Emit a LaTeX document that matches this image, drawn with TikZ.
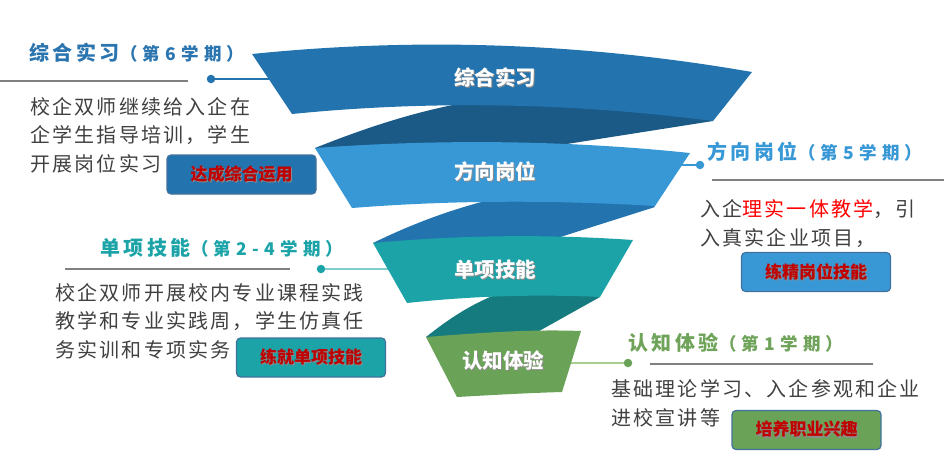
\documentclass[tikz,border=0pt]{standalone}
\usepackage{fontspec}
\setmainfont{Noto Sans CJK SC}
\newfontfamily\bodyfont[LetterSpace=11]{Noto Sans CJK SC}
\newfontfamily\headfont[LetterSpace=18]{Noto Sans CJK SC}
\newfontfamily\termfont[LetterSpace=30]{Noto Sans CJK SC}
\usetikzlibrary{calc}
\definecolor{bandA}{HTML}{2273AE}
\definecolor{twistA}{HTML}{1B5A87}
\definecolor{bandB}{HTML}{3898D6}
\definecolor{bandC}{HTML}{1BA3A8}
\definecolor{twistC}{HTML}{167B7F}
\definecolor{bandD}{HTML}{6AA257}
\definecolor{linkC}{HTML}{7FCDCF}
\definecolor{linkD}{HTML}{A8CF8E}
\definecolor{titleA}{HTML}{2A74AF}
\definecolor{titleD}{HTML}{6FA35A}
\definecolor{bodygray}{HTML}{404040}
\definecolor{boxred}{HTML}{C00000}
\definecolor{boxline}{HTML}{41719C}
\newcommand{\shad}[1]{\makebox[0pt][l]{\hspace{1.2pt}\raisebox{-1.2pt}{\textcolor{black!45}{#1}}}#1}
\newcommand{\term}[1]{{\termfont\fontsize{17.5}{17.5}\selectfont #1}}
\tikzset{
  bandlabel/.style={text=white, inner sep=0pt, font=\fontsize{20.5}{20.5}\selectfont\bfseries},
  stagetitle/.style={anchor=west, inner sep=0pt, font=\headfont\fontsize{20}{20}\selectfont\bfseries},
  stagebody/.style={anchor=base west, inner sep=0pt, align=left, text=bodygray, font=\bodyfont\fontsize{20}{28.5}\selectfont},
  tagbox/.style={draw=boxline, line width=1.2pt, rounded corners=4pt, minimum width=149pt, minimum height=39pt, text=boxred, font=\fontsize{17}{17}\selectfont\bfseries},
  stagedot/.style={circle, inner sep=0pt, minimum size=8.5pt},
  seprule/.style={draw=black!50, line width=1.1pt},
  stagelink/.style={line width=2pt}
}
\begin{document}
\begin{tikzpicture}[x=1pt, y=-1pt]
\useasboundingbox (0,0) rectangle (944,459);
\node[stagedot, fill=bandA] (d1) at (211,79) {};
\node[stagedot, fill=bandB] (d2) at (700,165) {};
\node[stagedot, fill=bandC] (d3) at (321,269) {};
\node[stagedot, fill=bandD] (d4) at (628,363) {};
\coordinate (e1) at (275,79);
\coordinate (e2) at (675,165);
\coordinate (e3) at (395,269);
\coordinate (e4) at (565,363);
\draw[stagelink, bandA] (d1) -- (e1);
\draw[stagelink, bandB] (e2) -- (d2);
\draw[stagelink, linkC] (d3) -- (e3);
\draw[stagelink, linkD] (e4) -- (d4);
\fill[twistA] (315,148) .. controls (380,122) and (430,108) .. (480,100) -- (690,108) -- (713,121) -- (497,155) -- (320,152) -- cycle;
\fill[bandA] (373,243) .. controls (420,220) and (460,207) .. (497,198) -- (650,200) -- (655,207) -- (535,245) -- (378,247) -- cycle;
\fill[twistC] (426,337) .. controls (450,318) and (470,305) .. (497,294) -- (598,292) -- (600,297) -- (523,340) -- (430,341) -- cycle;
\fill[bandA] (252,54) .. controls (419,37) and (585,43) .. (752,72) -- (713,121) .. controls (573,103) and (432,100) .. (292,114) -- cycle;
\fill[bandB] (315,148) .. controls (440,139) and (565,140) .. (690,153) -- (655,206) .. controls (554,200) and (453,200) .. (352,208) -- cycle;
\fill[bandC] (373,243) .. controls (460,235) and (546,234) .. (633,240) -- (600,297) .. controls (536,294) and (471,296) .. (407,303) -- cycle;
\fill[bandD] (426,337) .. controls (478,333) and (529,329) .. (581,331) -- (562,392) .. controls (527,393) and (492,395) .. (457,397) -- cycle;
\node[bandlabel] (b1) at (495,78) {\shad{综合实习}};
\node[bandlabel] (b2) at (495,172) {\shad{方向岗位}};
\node[bandlabel] (b3) at (495,270) {\shad{单项技能}};
\node[bandlabel] (b4) at (503,361) {\shad{认知体验}};
\draw[seprule] (0,81) -- (188,81);
\draw[seprule] (712,180) -- (944,180);
\draw[seprule] (65,269) -- (290,269);
\draw[seprule] (650,364) -- (873,364);
\node[stagetitle, text=titleA] (t1) at (29,53) {综合实习\term{（第6学期）}};
\node[stagetitle, text=bandB] (t2) at (707,152) {方向岗位\term{（第5学期）}};
\node[stagetitle, text=bandC] (t3) at (100,248) {单项技能\term{（第2-4学期）}};
\node[stagetitle, text=titleD] (t4) at (628,343) {认知体验\term{（第1学期）}};
\node[stagebody] (p1) at (30,171) {校企双师继续给入企在\\企学生指导培训，学生\\开展岗位实习};
\node[stagebody] (p2) at (700,245) {入企\textcolor{red}{理实一体教学}，引\\入真实企业项目，};
\node[stagebody] (p3) at (55,357) {校企双师开展校内专业课程实践\\教学和专业实践周，学生仿真任\\务实训和专项实务};
\node[stagebody] (p4) at (611,425) {基础理论学习、入企参观和企业\\进校宣讲等};
\node[tagbox, fill=bandA] (g1) at (241.5,174.5) {\shad{达成综合运用}};
\node[tagbox, fill=bandB] (g2) at (816,272) {\shad{练精岗位技能}};
\node[tagbox, fill=bandC] (g3) at (311,357.5) {\shad{练就单项技能}};
\node[tagbox, fill=bandD] (g4) at (806.5,430) {\shad{培养职业兴趣}};
\end{tikzpicture}
\end{document}
